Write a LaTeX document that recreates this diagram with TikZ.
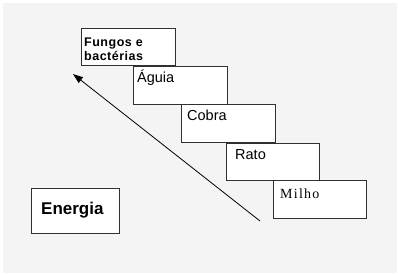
\documentclass[tikz,border=0pt]{standalone}
\usepackage{fontspec}
\setmainfont{Liberation Sans}
\newfontfamily\serifmilho[LetterSpace=9]{Liberation Serif}
\newfontfamily\sansspaced[LetterSpace=4]{Liberation Sans}
\usetikzlibrary{arrows.meta}
\definecolor{bggray}{HTML}{F4F4F4}
\definecolor{edge}{HTML}{303030}
\tikzset{
  box/.style={draw=edge, line width=0.9pt, fill=white, anchor=north west, inner sep=0pt},
  lbl/.style={anchor=base west, inner sep=0pt, text=black},
  energy/.style={->, >={Triangle[length=10pt,width=7pt]}, line width=0.8pt, black}
}
\begin{document}
\begin{tikzpicture}[x=1pt,y=-1pt]
\useasboundingbox (0,0) rectangle (398,275);
\fill[bggray] (3,3) rectangle (397,273);
% boxes
\node[box, minimum width=94pt, minimum height=37pt] (fungos) at (81,28) {};
\node[box, minimum width=94pt, minimum height=38pt] (aguia) at (133,66) {};
\node[box, minimum width=94pt, minimum height=38pt] (cobra) at (181,104) {};
\node[box, minimum width=93pt, minimum height=37pt] (rato) at (226,143) {};
\node[box, minimum width=93pt, minimum height=38pt] (milho) at (273,180) {};
\node[box, minimum width=88pt, minimum height=45pt] (energia) at (31,188) {};
% labels
\node[lbl, font=\fontsize{12.5}{15}\selectfont\sansspaced\bfseries] (tf1) at (84,46.5) {Fungos e};
\node[lbl, font=\fontsize{12.5}{15}\selectfont\sansspaced\bfseries] (tf2) at (84,61) {bactérias};
\node[lbl, font=\fontsize{14.5}{16}\selectfont] (ta) at (137,83) {Águia};
\node[lbl, font=\fontsize{14.5}{16}\selectfont] (tc) at (187,121) {Cobra};
\node[lbl, font=\fontsize{14.5}{16}\selectfont] (tr) at (235,160) {Rato};
\node[lbl, font=\fontsize{14}{16}\selectfont\serifmilho] (tm) at (280,198) {Milho};
\node[lbl, font=\fontsize{17}{19}\selectfont\bfseries] (te) at (41,214) {Energia};
% arrow
\coordinate (tail) at (260,221);
\coordinate (tip) at (73,74);
\draw[energy] (tail) -- (tip);
\end{tikzpicture}
\end{document}
